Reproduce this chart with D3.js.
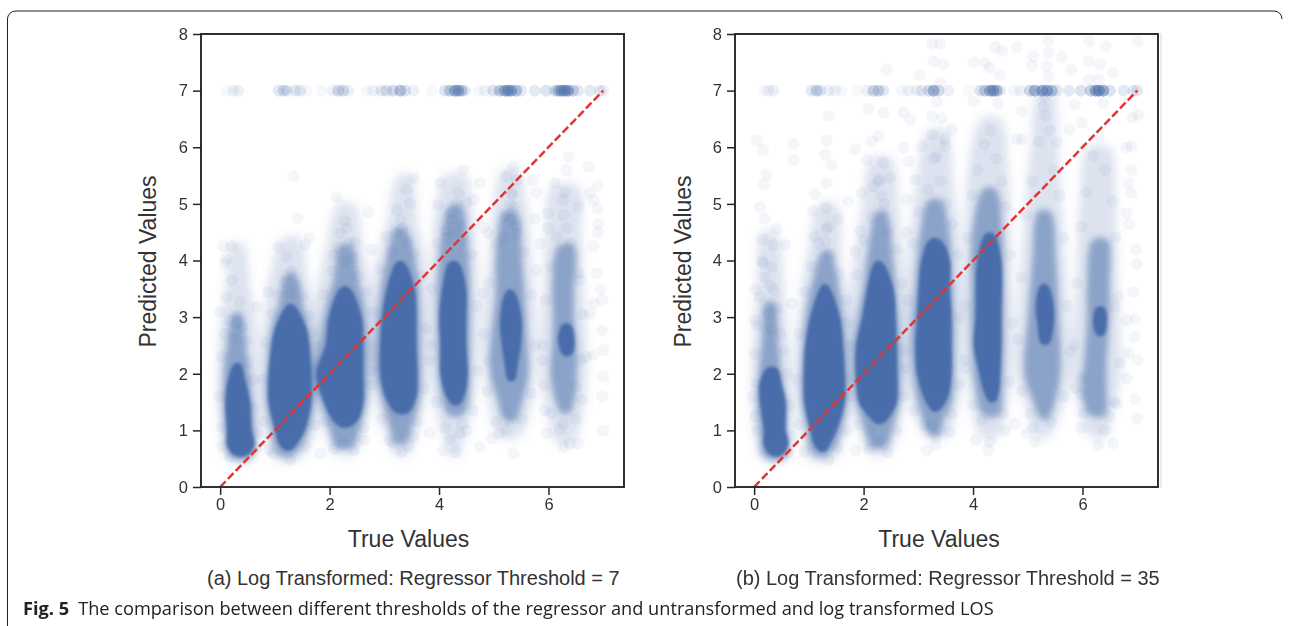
<!DOCTYPE html>
<html><head><meta charset="utf-8">
<script src="https://cdn.jsdelivr.net/npm/d3@7/dist/d3.min.js"></script>
<style>
html,body{margin:0;padding:0;background:#fff}
svg{display:block}
.tick text{font-family:"Liberation Sans",Arial,sans-serif;font-size:16.5px;fill:#333}
</style></head><body><svg id="c" width="1289" height="626"></svg>
<script>
const xTicks=[0,2,4,6], yTicks=[0,1,2,3,4,5,6,7,8];
const diagonal=[[0,0],[7,7]];
const xLabel="True Values", yLabel="Predicted Values";
const captionA="(a) Log Transformed: Regressor Threshold = 7";
const captionB="(b) Log Transformed: Regressor Threshold = 35";
const figBold="Fig. 5";
const figText="The comparison between different thresholds of the regressor and untransformed and log transformed LOS";

// values capped at 7: [true value, number of overlapping points]
const capA=[[.12,1],[.24,2],[.33,2],[1.07,3],[1.16,5],[1.22,3],[1.37,3],[1.46,3],[1.58,1],[1.86,1],[2.07,2],[2.16,5],[2.25,5],[2.34,2],[2.68,1],[2.8,2],[2.95,3],[3.04,4],[3.16,5],[3.29,9],[3.38,4],[3.53,2],[3.86,1],[4.11,4],[4.2,7],[4.29,12],[4.35,12],[4.41,8],[4.47,3],[4.72,1],[4.84,2],[4.99,4],[5.11,8],[5.2,12],[5.26,14],[5.32,14],[5.41,9],[5.5,3],[5.75,3],[5.96,4],[6.12,5],[6.18,10],[6.24,14],[6.3,16],[6.36,14],[6.45,6],[6.54,3],[6.76,3],[6.94,3],[7,2]];
const capB=[[.17,1],[.26,2],[.35,2],[1.05,3],[1.14,6],[1.21,3],[1.36,2],[1.48,2],[1.6,1],[1.88,1],[2.06,2],[2.18,6],[2.27,6],[2.36,3],[2.7,1],[2.82,2],[2.97,2],[3.06,3],[3.19,5],[3.28,12],[3.37,5],[3.55,2],[3.92,1],[4.13,4],[4.22,7],[4.31,12],[4.37,14],[4.43,10],[4.49,3],[4.74,1],[4.86,2],[5.04,6],[5.13,11],[5.26,14],[5.35,14],[5.44,9],[5.53,3],[5.75,3],[5.97,4],[6.15,7],[6.24,14],[6.3,17],[6.38,14],[6.5,4],[6.75,3],[6.93,3],[7,3]];

// individually visible points [true value, predicted value]
const scatterA=[[.06,4.25],[.21,4.25],[.12,4.02],[1.07,4.24],[1.34,5.49],[1.42,4.74],[1.22,4.07],[1.64,4.4],[1.55,4.28],[2.13,5.12],[2.31,4.57],[2.19,4.48],[2.47,4.33],[2.08,4.1],[2.71,4.85],[2.77,4.19],[3.04,4.42],[3.32,4.57],[3.23,4.89],[3.47,5.01],[3.41,5.25],[3.53,5.46],[4.02,5.37],[3.98,4.98],[4.44,5.6],[4.35,5.2],[4.5,5.02],[4.23,4.72],[4.29,4.48],[4.14,4.4],[4.75,5.37],[4.63,5.07],[4.81,4.59],[4.9,4.48],[5.36,5.66],[5.23,5.49],[5.42,5.42],[5.33,5.2],[5.33,5.16],[5.36,4.95],[5.3,4.72],[5.42,4.48],[5.17,4.4],[6.36,5.83],[6.73,5.66],[6.33,5.6],[5.72,5.42],[6.12,5.37],[5.78,5.2],[6.3,5.2],[6.55,4.95],[6.27,5.07],[5.99,4.83],[5.75,4.74],[6.76,5.2],[6.9,5.32],[6.9,4.92],[6.82,5.07],[6.91,4.65],[6.82,4.25],[6.9,4.5],[5.99,4.58],[5.85,4.3],[6.33,4.57],[6.88,3.77],[6.98,3.3],[6.95,3.48],[6.98,2.77],[7,2.42],[6.82,2.33],[7,1.95],[6.98,1.6],[7,1],[6.82,3.24],[6.57,3.65],[6.76,3.06],[6.6,2.24],[5.97,.95],[6.27,.71],[6.54,.77],[6.39,.77],[6.27,1.12],[5.93,1.36],[5.11,.95],[4.96,.86],[5.36,.59],[4.75,.71],[5.17,1.36],[4.29,.62],[4.08,.65],[4.38,.95],[4.2,.83],[4.5,1],[3.83,.95],[3.32,.62],[3.16,.77],[3.53,.89],[2.25,.77],[1.83,.59],[2.62,.83],[1.28,.48],[.97,.59],[.18,.54],[.67,3.18],[0,3.09],[.12,3.36],[.37,3.27],[.21,3.65],[.09,3.95],[.88,3.45],[2.74,2.3],[3.83,2.24],[4.81,3.42],[4.9,2.24],[5.78,3.83],[5.9,2.24],[6.5,1.77],
[.17,2.95],[.31,2.9],[.4,2.82],[.09,2.7],[.27,2.62],[.47,2.58],[.03,2.3],[.5,2.2],[.6,1.9],[.62,1.4],[-.02,1.6],[.04,1.05],[.68,.95],[.65,.7],[.04,.72],
[1.3,3.8],[1.18,3.62],[1.4,3.55],[1.06,3.4],[1.28,3.42],[1.52,3.38],[.95,3.05],[1.62,3.02],[.83,2.55],[1.74,2.5],[.78,1.9],[1.78,1.7],[.8,1.15],[1.72,1.1],[.9,.66],[1.55,.72],
[2.28,4.7],[2.36,4.32],[2.15,4.22],[2.42,4.05],[2.27,3.98],[2.05,3.82],[2.52,3.72],[1.88,3.4],[2.68,3.45],[1.7,2.72],[2.76,2.5],[2.75,1.8],[1.9,1.15],[2.62,1.05],[2.08,.68],[2.44,.65],
[3.3,4.72],[3.2,4.5],[3.42,4.3],[3.12,4.15],[3.55,4.12],[2.92,3.85],[3.68,3.72],[2.8,3.1],[3.75,2.8],[2.75,2.05],[3.72,1.75],[2.95,1.2],[3.6,1.15],[3.1,.82],[3.45,.72],
[4.32,5],[4.22,4.85],[4.38,4.62],[4.12,4.52],[4.48,4.35],[3.97,4.3],[4.6,4.1],[3.88,3.5],[4.68,3.2],[3.85,2.5],[4.7,2.05],[3.95,1.5],[4.62,1.35],[4.12,1.05],[4.42,1.12],
[5.3,4.98],[5.2,4.78],[5.42,4.62],[5.05,4.3],[5.55,4.15],[4.92,3.6],[5.68,3.4],[4.82,2.7],[5.75,2.5],[4.88,1.7],[5.68,1.65],[5.05,1.15],[5.52,1.2],[5.22,1.02],
[6.28,4.8],[6.15,4.42],[6.4,4.3],[6.05,3.9],[6.55,3.78],[5.95,3.3],[6.62,3.05],[5.9,2.5],[6.68,2.3],[5.92,1.8],[6.62,1.55],[6.05,1.3],[6.5,1.2],[6.2,1.02]];
const scatterB=[[3.25,7.83],[3.4,7.83],[3.28,7.52],[3.46,7.46],[3.03,7.28],[2.42,7.37],[3.4,7.14],[4.4,7.77],[4.53,7.71],[4.8,7.77],[4.01,7.5],[4.31,7.41],[4.49,7.28],[4.22,7.49],[5.38,7.87],[5.38,7.66],[5.1,7.6],[5.07,7.44],[5.35,7.43],[5.62,7.59],[5.8,7.37],[6.11,7.52],[6.12,7.87],[6.42,7.78],[6.32,7.46],[6.56,7.31],[6.11,7.19],[7,7.87],[5.38,7.25],[6.29,7.19],[2.09,6.68],[2.36,6.61],[1.36,6.55],[2.73,6.62],[2.85,6.49],[3.34,6.81],[3.25,6.55],[3.43,6.52],[4.46,6.78],[4.01,6.81],[4.89,6.64],[5.32,6.55],[5.29,6.72],[5.86,6.75],[5.99,6.43],[5.77,6.31],[6.91,6.52],[7.02,6.58],[6.38,6.78],[.05,6.12],[.16,5.95],[.71,6.06],[.72,5.77],[.23,5.52],[.18,5.34],[.1,4.94],[.19,4.74],[.41,4.56],[.14,4.37],[.35,4.28],[.57,4.28],[.14,3.99],[1.32,6.12],[1.3,5.87],[1.42,5.68],[1.32,5.37],[1.11,5.18],[1.08,4.87],[1.3,4.93],[1.54,4.72],[1.36,4.6],[1.11,4.43],[1.3,4.34],[1.85,5.96],[1.72,5.05],[1.94,4.52],[1.85,4.16],[2.27,6.2],[2.15,6.1],[2.06,5.78],[2.36,5.73],[2.27,5.43],[2.48,5.46],[2.18,5.31],[2.33,5.13],[1.97,5.19],[2.73,5.99],[2.82,5.75],[2.94,5.43],[2.79,5.08],[2.79,4.49],[3.49,6.02],[3.49,6.14],[3.25,6.22],[3.06,6.02],[3.34,5.84],[3.61,6.31],[4.8,6.14],[4.89,6.14],[5.53,6.08],[6.8,5.99],[6.89,6.02],[6.89,5.6],[6.85,5.37],[6.89,5.19],[6.81,4.84],[6.85,4.64],[6.98,4.2],[6.93,3.45],[6.99,3.94],[6.81,2.94],[6.96,2.97],[6.96,2.65],[6.85,2.36],[7,2.24],[6.81,1.92],[6.96,1.56],[7,1.21],[6.63,1.48],[5.98,1.92],[5.98,1.65],[5.98,1.04],[6.29,.74],[6.56,.77],[6.4,1],[4.98,.95],[5.13,.8],[5.1,1.06],[4.59,1],[4.28,.65],[4.04,.83],[4.31,.8],[4.77,1.12],[4.16,1.18],[3.31,.74],[3.15,.65],[3.25,1.09],[3.58,.97],[2.27,.8],[2.09,1],[1.85,.65],[1.36,.48],[.69,3.24],[.02,2.94],[.02,3.48],[.17,3.95],[.32,3.89],[.35,3.48],[.26,3.06],[.32,2.79],[.05,1.83],[.02,1.24],[3.85,2.24],[6.59,3.18],
[.2,3.7],[.3,3.55],[.1,3.35],[.42,3.15],[.05,2.85],[.48,2.7],[.02,2.35],[.55,2.4],[.6,2],[.65,1.45],[-.03,1.6],[.05,1],[.68,.9],[.62,.62],
[1.32,4.55],[1.18,4.3],[1.4,4.1],[1.05,3.9],[1.55,3.75],[.93,3.45],[1.68,3.3],[.82,2.7],[1.76,2.5],[.78,1.9],[1.78,1.6],[.82,1.1],[1.7,1],[.92,.62],[1.52,.7],
[2.28,5.4],[2.38,5],[2.15,4.75],[2.45,4.5],[2,4.35],[2.6,4.2],[1.88,3.75],[2.7,3.6],[1.72,2.9],[2.75,2.4],[1.7,1.9],[2.72,1.6],[1.92,1.1],[2.6,1],[2.1,.68],[2.44,.62],
[3.28,5.8],[3.4,5.4],[3.18,5.25],[3.5,5],[3.02,4.85],[3.62,4.65],[2.9,4.3],[3.72,4.1],[2.8,3.3],[3.76,3],[2.75,2.1],[3.74,1.8],[2.92,1.35],[3.6,1.3],[3.12,1.1],
[4.32,6.3],[4.2,6.05],[4.42,5.8],[4.08,5.6],[4.52,5.4],[3.98,5.15],[4.6,4.95],[3.9,4.4],[4.68,4.1],[3.85,3.2],[4.72,2.9],[3.88,2.1],[4.66,1.85],[4,1.45],[4.55,1.3],
[5.3,6.9],[5.4,6.3],[5.2,6.1],[5.48,5.6],[5.08,5.4],[5.58,5.15],[4.98,4.8],[5.66,4.4],[4.88,3.7],[5.72,3.2],[4.82,2.6],[5.78,2.4],[4.9,1.7],[5.65,1.6],[5.05,1.3],[5.42,1.15],
[6.3,6.2],[6.2,5.85],[6.42,5.6],[6.08,5.2],[6.55,5.05],[5.98,4.6],[6.6,4.4],[5.9,3.6],[6.65,3.35],[5.85,2.5],[6.68,2.2],[5.88,1.75],[6.58,1.5],[6.02,1.3],[6.48,1.25]];

// density outlines per true-value band: [predicted, left true value, right true value]
const coreA=[
[[2.15,.27,.36],[1.9,.17,.43],[1.5,.12,.52],[1,.15,.55],[.75,.15,.6],[.58,.28,.48]],
[[3.2,1.25,1.32],[2.8,1.03,1.55],[2,.91,1.64],[1.5,.91,1.64],[1,1.03,1.52],[.8,1.08,1.4],[.68,1.18,1.3]],
[[3.5,2.22,2.34],[3,2.01,2.56],[2.5,1.95,2.59],[2,1.78,2.59],[1.5,1.92,2.59],[1.2,2.07,2.5],[1.08,2.22,2.35]],
[[3.95,3.24,3.34],[3.5,3.07,3.53],[3,2.98,3.56],[2.5,2.95,3.56],[2,2.95,3.58],[1.6,3.04,3.56],[1.33,3.22,3.42]],
[[3.95,4.2,4.33],[3.5,4.08,4.47],[3,4.03,4.47],[2.5,4.05,4.47],[2,4.05,4.5],[1.65,4.14,4.45],[1.48,4.25,4.36]],
[[3.45,5.26,5.34],[3,5.14,5.48],[2.5,5.17,5.47],[2.2,5.22,5.42],[1.9,5.28,5.36]],
[[2.85,6.27,6.38],[2.6,6.2,6.45],[2.35,6.28,6.4]]];
const midA=[
[[3.05,.25,.38],[2.5,.14,.45],[2,.08,.52],[1.5,.07,.58],[1,.1,.62],[.6,.15,.6],[.5,.28,.48]],
[[3.75,1.22,1.36],[3.2,1.08,1.5],[2.8,.95,1.6],[2,.86,1.7],[1.5,.85,1.7],[1,.95,1.6],[.7,1,1.45],[.56,1.12,1.3]],
[[4.25,2.2,2.4],[3.7,2.1,2.5],[3.2,1.95,2.62],[2.5,1.82,2.68],[2,1.72,2.68],[1.5,1.85,2.66],[1,2.02,2.52],[.72,2.12,2.42]],
[[4.55,3.22,3.38],[4,3.05,3.55],[3.5,2.95,3.62],[2.5,2.85,3.65],[2,2.85,3.66],[1.5,2.98,3.62],[1.1,3.1,3.5],[.78,3.22,3.38]],
[[4.95,4.2,4.4],[4.3,4.05,4.5],[3.5,3.98,4.55],[2.5,3.98,4.55],[2,4,4.55],[1.5,4.08,4.52],[1.28,4.18,4.42]],
[[4.85,5.2,5.4],[4,5.05,5.5],[3.4,5.05,5.55],[2.5,4.95,5.6],[2,4.95,5.62],[1.5,5.1,5.5],[1.18,5.22,5.38]],
[[4.25,6.2,6.45],[3.5,6.08,6.45],[3,6.1,6.45],[2.5,6.08,6.5],[2,6.05,6.5],[1.5,6.15,6.45],[1.32,6.24,6.38]]];
const outerA=[
[[4.3,.22,.42],[3.5,.1,.55],[3,.02,.65],[2,-.05,.7],[1,0,.72],[.48,.15,.6]],
[[4.4,1.15,1.45],[3.7,.9,1.6],[3,.8,1.75],[2,.72,1.82],[1,.82,1.75],[.48,1,1.45]],
[[5,2.15,2.45],[4.3,1.95,2.6],[3.5,1.78,2.75],[2,1.62,2.8],[1,1.9,2.65],[.58,2.1,2.45]],
[[5.5,3.25,3.5],[4.7,3.05,3.6],[4,2.85,3.75],[2.5,2.72,3.8],[1.5,2.85,3.75],[.8,3.05,3.55],[.55,3.22,3.42]],
[[5.5,4.1,4.5],[5,3.95,4.6],[4,3.85,4.7],[2.5,3.8,4.72],[1.5,3.9,4.65],[.8,4.1,4.45],[.55,4.22,4.38]],
[[5.6,5.15,5.45],[5,5,5.6],[4,4.9,5.7],[2.5,4.78,5.78],[1.5,4.9,5.7],[.88,5.1,5.45]],
[[5.3,6.05,6.55],[4.5,5.95,6.6],[3.5,5.9,6.65],[2,5.85,6.7],[1.2,6,6.6],[.78,6.15,6.45]]];
const coreB=[
[[2.08,.25,.4],[1.8,.12,.48],[1.5,.13,.55],[1,.2,.55],[.75,.2,.6],[.58,.32,.48]],
[[3.55,1.26,1.32],[3,1.05,1.54],[2.5,.96,1.6],[2,.93,1.63],[1.5,.94,1.63],[1,1.05,1.48],[.8,1.1,1.38],[.66,1.2,1.3]],
[[3.95,2.22,2.32],[3.5,2.09,2.52],[3,2,2.56],[2.5,1.89,2.58],[2,1.88,2.59],[1.5,1.94,2.58],[1.25,2.12,2.45],[1.15,2.22,2.35]],
[[4.35,3.22,3.38],[4,3.08,3.55],[3.5,3.03,3.55],[3,3,3.58],[2.5,2.97,3.58],[2,3,3.58],[1.6,3.12,3.52],[1.36,3.27,3.35]],
[[4.45,4.24,4.36],[4,4.1,4.49],[3,4.07,4.49],[2.5,4.04,4.49],[2,4.14,4.47],[1.7,4.22,4.45],[1.53,4.31,4.39]],
[[3.55,5.26,5.34],[3.2,5.17,5.45],[2.9,5.2,5.45],[2.55,5.26,5.37]],
[[3.15,6.27,6.38],[2.9,6.22,6.42],[2.7,6.28,6.37]]];
const midB=[
[[3.25,.22,.36],[2.6,.16,.42],[2,.1,.48],[1.5,.07,.58],[1,.12,.58],[.6,.15,.6],[.5,.28,.48]],
[[4.15,1.25,1.38],[3.7,1.1,1.5],[3.2,.98,1.58],[2.5,.9,1.66],[1.5,.88,1.68],[1,.98,1.58],[.7,1.02,1.45],[.56,1.14,1.3]],
[[4.85,2.25,2.4],[4.2,2.1,2.5],[3.5,2,2.58],[2.5,1.82,2.65],[2,1.82,2.66],[1.5,1.88,2.64],[1,2.05,2.5],[.72,2.14,2.4]],
[[5.05,3.2,3.4],[4.5,3.05,3.55],[3.5,2.95,3.62],[2.5,2.88,3.65],[1.5,3,3.6],[1.2,3.1,3.45],[.92,3.22,3.38]],
[[5.25,4.2,4.4],[4.5,4,4.52],[3.5,3.98,4.55],[2.5,3.98,4.55],[1.8,4.05,4.53],[1.28,4.2,4.46]],
[[4.85,5.2,5.4],[4,5.1,5.5],[3,5.02,5.55],[2,4.95,5.58],[1.5,5.12,5.48],[1.22,5.24,5.36]],
[[4.35,6.2,6.45],[3.6,6.1,6.48],[3,6.1,6.48],[2.2,6.05,6.42],[1.8,6,6.42],[1.28,6.14,6.4]]];
const outerB=[
[[4.5,.15,.4],[3.5,.05,.55],[3,0,.6],[2,-.05,.68],[1,0,.7],[.48,.15,.6]],
[[5,1.2,1.5],[4,.95,1.6],[3,.8,1.75],[2,.75,1.8],[1,.85,1.7],[.48,1,1.45]],
[[5.8,2.15,2.5],[4.8,1.95,2.65],[3.5,1.75,2.75],[2,1.65,2.8],[1,1.9,2.65],[.58,2.1,2.45]],
[[6.3,3.2,3.5],[5.3,2.95,3.65],[4,2.8,3.8],[2.5,2.72,3.8],[1.5,2.85,3.75],[.88,3.15,3.5]],
[[6.5,4.15,4.5],[5.5,3.9,4.65],[4,3.85,4.7],[2.5,3.82,4.72],[1.5,3.95,4.65],[.88,4.15,4.45]],
[[7,5.2,5.45],[6,5.05,5.55],[5,4.95,5.62],[3.5,4.85,5.72],[2,4.78,5.8],[1.3,5,5.6],[.88,5.15,5.38]],
[[6,6.1,6.5],[5,5.95,6.6],[3.5,5.88,6.65],[2,5.82,6.7],[1.3,5.95,6.55],[.88,6.15,6.42]]];

const BLUE="#4a6daa", RED="#e2352f", AXIS="#262626", SANS='"Liberation Sans",Arial,sans-serif';
const svg=d3.select("#c");
const defs=svg.append("defs");
[["b1",1.5],["b2",3.2],["b3",5],["b0",.7]].forEach(([id,s])=>{
  defs.append("filter").attr("id",id).attr("x","-50%").attr("y","-20%").attr("width","200%").attr("height","140%")
    .append("feGaussianBlur").attr("stdDeviation",s);
});
svg.append("path").attr("d","M7.5 626V19a8 8 0 0 1 8-8H1274a8 8 0 0 1 8 8").attr("fill","none").attr("stroke","#222").attr("stroke-width",1);

function panel(left,cap,scatter,core,mid,outer,caption,capX,tx,ty){
  const plotW=423, top=34, bottom=487;
  const x=d3.scaleLinear().domain([-.35,7.38]).range([left,left+plotW]);
  const y=d3.scaleLinear().domain([0,8]).range([bottom,top]);
  const g=svg.append("g");
  const outline=d3.line().x(d=>x(d[0])).y(d=>y(d[1])).curve(d3.curveCatmullRomClosed.alpha(.5));
  const shape=rows=>outline(rows.map(r=>[r[1],r[0]]).concat(rows.slice().reverse().map(r=>[r[2],r[0]])));
  const clipId="clip"+left;
  defs.append("clipPath").attr("id",clipId).append("rect").attr("x",left).attr("y",top).attr("width",plotW).attr("height",bottom-top);
  const marks=g.append("g").attr("clip-path",`url(#${clipId})`);
  marks.append("g").attr("filter","url(#b3)").selectAll("path").data(outer).join("path").attr("d",shape).attr("fill",BLUE).attr("opacity",.2);
  marks.append("g").attr("filter","url(#b2)").selectAll("path").data(mid).join("path").attr("d",shape).attr("fill",BLUE).attr("stroke",BLUE).attr("stroke-width",2).attr("opacity",.55);
  const pts=marks.append("g").attr("filter","url(#b0)");
  pts.selectAll("circle.s").data(scatter).join("circle").attr("class","s").attr("cx",d=>x(d[0])).attr("cy",d=>y(d[1])).attr("r",6).attr("fill",BLUE).attr("opacity",.06);
  pts.selectAll("circle.c").data(cap).join("circle").attr("class","c").attr("cx",d=>x(d[0])).attr("cy",y(7)).attr("r",6).attr("fill",BLUE).attr("opacity",d=>1-Math.pow(.95,d[1]));
  marks.append("g").attr("filter","url(#b1)").selectAll("path").data(core).join("path").attr("d",shape).attr("fill",BLUE).attr("stroke",BLUE).attr("stroke-width",3);
  const line=d3.line().x(d=>x(d[0])).y(d=>y(d[1]));
  marks.append("path").attr("d",line(diagonal)).attr("fill","none").attr("stroke",RED).attr("stroke-width",2.5).attr("stroke-dasharray","8 3.2");
  g.append("rect").attr("x",left).attr("y",top).attr("width",plotW).attr("height",bottom-top).attr("fill","none").attr("stroke",AXIS).attr("stroke-width",1.9);
  const ax=g.append("g").attr("transform",`translate(0,${bottom})`).call(d3.axisBottom(x).tickValues(xTicks).tickSize(8).tickSizeOuter(0).tickPadding(3));
  const ay=g.append("g").attr("transform",`translate(${left},0)`).call(d3.axisLeft(y).tickValues(yTicks).tickSize(8).tickSizeOuter(0).tickPadding(5));
  [ax,ay].forEach(a=>{a.select(".domain").remove();a.selectAll(".tick line").attr("stroke",AXIS).attr("stroke-width",1.5);});
  g.append("text").attr("x",tx).attr("y",547).attr("text-anchor","middle").attr("font-family",SANS).attr("font-size",23).attr("fill","#333").text(xLabel);
  g.append("text").attr("transform",`translate(${ty},261.5) rotate(-90)`).attr("text-anchor","middle").attr("font-family",SANS).attr("font-size",23).attr("fill","#333").text(yLabel);
  g.append("text").attr("x",capX).attr("y",585).attr("font-family",SANS).attr("font-size",20).attr("fill","#333").text(caption);
}
panel(201,capA,scatterA,coreA,midA,outerA,captionA,207,408.5,155.5);
panel(735,capB,scatterB,coreB,midB,outerB,captionB,736,939,690.5);
svg.append("rect").attr("x",1160).attr("y",33).attr("width",2).attr("height",455).attr("fill","#ececec");

const cap=svg.append("text").attr("x",23).attr("y",615).attr("font-family",'"Open Sans","Noto Sans",sans-serif').attr("font-size",18.2).attr("fill","#222");
cap.append("tspan").attr("font-weight",700).text(figBold);
cap.append("tspan").attr("dx",9).text(figText);
</script></body></html>
